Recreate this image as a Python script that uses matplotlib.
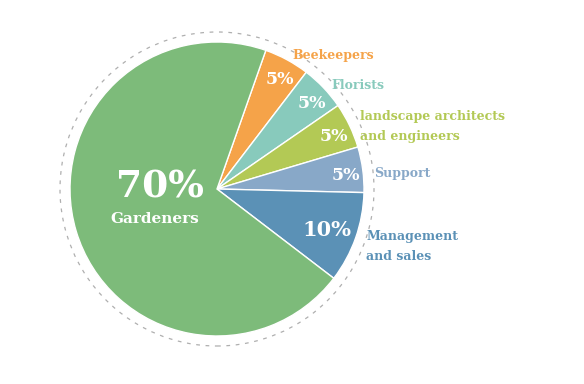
import numpy as np
import matplotlib
matplotlib.use("Agg")
import matplotlib.pyplot as plt
from matplotlib.patches import Circle

categories = ["Beekeepers", "Florists", "landscape architects\nand engineers",
              "Support", "Management\nand sales", "Gardeners"]
values = [5, 5, 5, 5, 10, 70]
pct_labels = ["5%", "5%", "5%", "5%", "10%", "70%"]
colors = ["#F5A349", "#88CABC", "#B3C955", "#88A8C8", "#5B91B6", "#7DBB7A"]

W, H = 584, 384
fig = plt.figure(figsize=(W / 100, H / 100), dpi=100)
ax = fig.add_axes([0, 0, 1, 1])

cx, cy, R = 217, 195, 147
start = 70.6
FONT = "DejaVu Serif"

wedges, _ = ax.pie(values, colors=colors, startangle=start, counterclock=False,
                   center=(cx, cy), radius=R, frame=True,
                   wedgeprops=dict(edgecolor="white", linewidth=1.0))
ax.set_xlim(0, W)
ax.set_ylim(0, H)
ax.set_aspect("equal")
ax.axis("off")

ax.add_patch(Circle((cx, cy), 157, fill=False, edgecolor="#AFAFAF",
                    linewidth=0.9, linestyle=(0, (3, 4.5))))

total = sum(values)
ang = start
for i, (cat, v, pl, col) in enumerate(zip(categories, values, pct_labels, colors)):
    span = 360 * v / total
    mid = np.deg2rad(ang - span / 2)
    ang -= span
    if cat == "Gardeners":
        ax.text(cx - 57, cy + 2, pl, color="white", fontsize=27, fontweight="bold",
                family=FONT, ha="center", va="center")
        ax.text(cx - 62, cy - 30, cat, color="white", fontsize=11, fontweight="bold",
                family=FONT, ha="center", va="center")
        continue
    pd = 0.78 if v >= 10 else 0.87
    fs = 15 if v >= 10 else 12.5
    ax.text(cx + pd * R * np.cos(mid) + 2, cy + pd * R * np.sin(mid) - 3, pl,
            color="white", fontsize=fs, fontweight="bold", family=FONT,
            ha="center", va="center")
    ld = 1.07
    ax.text(cx + ld * R * np.cos(mid) + 1, cy + ld * R * np.sin(mid) - 5, cat,
            color=col, fontsize=9, fontweight="bold", family=FONT,
            ha="left", va="center", linespacing=1.7)

fig.savefig("out.png", dpi=100)
